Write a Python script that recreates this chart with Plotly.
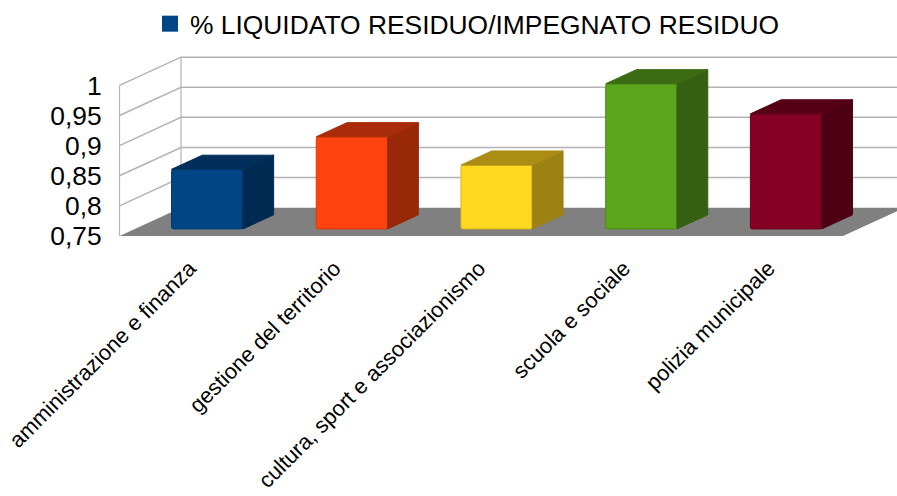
import plotly.graph_objects as go

categories = ["amministrazione e finanza", "gestione del territorio",
              "cultura, sport e associazionismo", "scuola e sociale", "polizia municipale"]
values = [0.849, 0.903, 0.856, 0.991, 0.941]
series_name = "% LIQUIDATO RESIDUO/IMPEGNATO RESIDUO"
front_colors = ["#004586", "#ff420e", "#ffd91f", "#5ca61e", "#840024"]
edge_colors = ["#003a70", "#d9380c", "#d9b81a", "#4a8a18", "#6b001c"]
top_colors = ["#002f5c", "#a82c09", "#ab8d15", "#3b6b13", "#560016"]
side_colors = ["#002a52", "#992808", "#9c8113", "#356011", "#4d0014"]
y_ticks = [0.75, 0.8, 0.85, 0.9, 0.95, 1.0]
y_labels = ["0,75", "0,8", "0,85", "0,9", "0,95", "1"]

# Projection: the oblique depth vector, in axis units
Y0, Y1 = 0.75, 1.0
DX, DY = 61.5 / 144.7, 28.5 / 608
D0, D1 = 0.25, 0.75      # depth span occupied by the bars
BAR_W = 0.493
X_MIN, X_MAX = -0.5657, 4.873
LEFT, RIGHT = -0.5, 4.5
GRID = "#b3b3b3"
FLOOR = "#808080"


def proj(x, v, d):
    return x + DX * d, v + DY * d


def path(pts, close=False):
    s = "M" + " L".join(f"{a:.4f},{b:.4f}" for a, b in pts)
    return s + (" Z" if close else "")


shapes = []
# floor
floor = [proj(LEFT, Y0, 0), proj(LEFT, Y0, 1), proj(RIGHT, Y0, 1), proj(RIGHT, Y0, 0)]
shapes.append(dict(type="path", path=path(floor, True), xref="x", yref="y",
                   fillcolor=FLOOR, line=dict(width=0), layer="below"))
# grid lines over the side wall and the back wall
for t in y_ticks[1:]:
    pts = [proj(LEFT, t, 0), proj(LEFT, t, 1), (X_MAX, proj(LEFT, t, 1)[1])]
    shapes.append(dict(type="path", path=path(pts), xref="x", yref="y",
                       line=dict(color=GRID, width=1.5), layer="below"))
for d in (0, 1):
    pts = [proj(LEFT, Y0, d), proj(LEFT, Y1, d)]
    shapes.append(dict(type="path", path=path(pts), xref="x", yref="y",
                       line=dict(color=GRID, width=1.2), layer="below"))

fig = go.Figure()

# side and top faces
for i, v in enumerate(values):
    xl, xr = i - BAR_W / 2, i + BAR_W / 2
    side = [proj(xr, Y0, D0), proj(xr, Y0, D1), proj(xr, v, D1), proj(xr, v, D0)]
    top = [proj(xl, v, D0), proj(xl, v, D1), proj(xr, v, D1), proj(xr, v, D0)]
    for pts, col in ((side, side_colors[i]), (top, top_colors[i])):
        fig.add_trace(go.Scatter(x=[p[0] for p in pts] + [pts[0][0]],
                                 y=[p[1] for p in pts] + [pts[0][1]],
                                 mode="lines", fill="toself", fillcolor=col,
                                 line=dict(color=col, width=1),
                                 showlegend=False, hoverinfo="skip"))

# front faces
fx = [i + DX * D0 for i in range(len(values))]
base = Y0 + DY * D0
fig.add_trace(go.Bar(x=fx, y=[v - Y0 for v in values], base=base, width=BAR_W, showlegend=False,
                     marker=dict(color=front_colors, line=dict(color=edge_colors, width=1),
                                 cornerradius=2),
                     hoverinfo="skip"))

# legend entry
fig.add_trace(go.Scatter(x=[None], y=[None], mode="markers", name=series_name,
                         marker=dict(symbol="square", size=16, color=front_colors[0])))

fig.update_layout(
    width=897, height=496,
    margin=dict(l=110, r=0, t=49.3, b=260, pad=0),
    paper_bgcolor="white", plot_bgcolor="white",
    font=dict(family="Liberation Sans", color="#000000", size=22),
    separators=",.",
    shapes=shapes,
    showlegend=True,
    legend=dict(x=0.0508, y=1.278, xanchor="left", yanchor="top", bgcolor="rgba(0,0,0,0)",
                font=dict(size=26.4), itemsizing="trace"),
    xaxis=dict(range=[X_MIN, X_MAX], tickmode="array",
               tickvals=[i - 0.015 for i in range(len(categories))],
               ticktext=categories, tickangle=-45, showgrid=False, zeroline=False,
               showline=False, ticks="outside", ticklen=10, tickcolor="rgba(0,0,0,0)",
               tickfont=dict(size=21.8), automargin=False),
    yaxis=dict(range=[Y0, Y0 + 186.7 / 608], tickmode="array", tickvals=y_ticks, ticktext=y_labels,
               showgrid=False, zeroline=False, showline=False, ticks="outside", ticklen=2,
               tickcolor="rgba(0,0,0,0)", tickfont=dict(size=26.4), automargin=False),
)

fig.write_html("out.html", config={"displayModeBar": False},
               post_script="document.body.style.margin='0';document.body.style.overflow='hidden';")
